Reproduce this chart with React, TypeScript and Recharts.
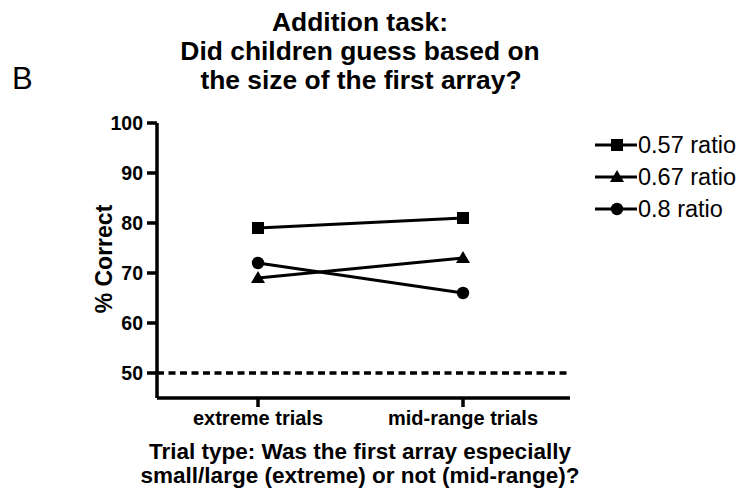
import React from 'react';
import { LineChart, Line, XAxis, YAxis, ReferenceLine, Legend } from 'recharts';

const categories = ['extreme trials', 'mid-range trials'];
const ratio057 = [79, 81];
const ratio067 = [69, 73];
const ratio08 = [72, 66];
const yTicks = [50, 60, 70, 80, 90, 100];
const chanceLevel = 50;

const seriesList = [
  { key: 'r057', name: '0.57 ratio', shape: 'square', values: ratio057 },
  { key: 'r067', name: '0.67 ratio', shape: 'triangle', values: ratio067 },
  { key: 'r08', name: '0.8 ratio', shape: 'circle', values: ratio08 },
];

const data = categories.map((c, i) => {
  const row: any = { category: c };
  seriesList.forEach((s) => (row[s.key] = s.values[i]));
  return row;
});

const FONT = '"Liberation Sans", Arial, Helvetica, sans-serif';

function Marker({ shape, cx, cy }: { shape: string; cx: number; cy: number }) {
  if (shape === 'square') return <rect x={cx - 6} y={cy - 6} width={12} height={12} fill="#000" />;
  if (shape === 'triangle')
    return <polygon points={`${cx},${cy - 7} ${cx - 7},${cy + 5} ${cx + 7},${cy + 5}`} fill="#000" />;
  return <circle cx={cx} cy={cy} r={6.2} fill="#000" />;
}

const makeDot = (shape: string) => (props: any) => {
  const { cx, cy, index } = props;
  if (cx == null || cy == null) return <g key={index} />;
  return <Marker key={index} shape={shape} cx={cx} cy={cy} />;
};

const LegendContent = (props: any) => {
  const payload = props.payload || [];
  return (
    <svg width={150} height={100} style={{ display: 'block' }}>
      {payload.map((p: any, i: number) => {
        const s = seriesList.find((x) => x.key === p.dataKey) || seriesList[i];
        const y = 15 + i * 32;
        return (
          <g key={s.key}>
            <line x1={5} x2={47} y1={y} y2={y} stroke="#000" strokeWidth={3} />
            <Marker shape={s.shape} cx={27} cy={y} />
            <text x={48} y={y + 8} fontFamily={FONT} fontSize={23.5} fill="#000">
              {s.name}
            </text>
          </g>
        );
      })}
    </svg>
  );
};

export default function App() {
  return (
    <div style={{ position: 'absolute', left: 0, top: 0, width: 740, height: 496, background: '#fff' }}>
      <LineChart
        width={740}
        height={496}
        data={data}
        margin={{ top: 123, right: 170, bottom: 68, left: 97 }}
      >
        <XAxis
          dataKey="category"
          height={30}
          padding={{ left: 101, right: 107 }}
          axisLine={{ stroke: '#000', strokeWidth: 3.5 }}
          tickLine={{ stroke: '#000', strokeWidth: 3.5 }}
          tickSize={9}
          tickMargin={4}
          tick={{ fill: '#000', fontSize: 20, fontWeight: 'bold', fontFamily: FONT }}
        />
        <YAxis
          width={60}
          type="number"
          domain={[45, 100]}
          ticks={yTicks}
          allowDataOverflow
          axisLine={{ stroke: '#000', strokeWidth: 3.5 }}
          tickLine={{ stroke: '#000', strokeWidth: 3.5 }}
          tickSize={10}
          tickMargin={4}
          tick={{ fill: '#000', fontSize: 19.5, fontWeight: 'bold', fontFamily: FONT }}
        />
        <ReferenceLine y={chanceLevel} stroke="#000" strokeWidth={3.5} strokeDasharray="7 4.5" />
        {seriesList.map((s) => (
          <Line
            key={s.key}
            type="linear"
            dataKey={s.key}
            name={s.name}
            stroke="#000"
            strokeWidth={3}
            dot={makeDot(s.shape)}
            activeDot={false}
            isAnimationActive={false}
          />
        ))}
        <Legend
          layout="vertical"
          align="center"
          verticalAlign="middle"
          content={LegendContent}
          wrapperStyle={{ position: 'absolute', left: 590, top: 130, width: 150, height: 100 }}
        />
      </LineChart>
      <svg
        width={740}
        height={496}
        style={{ position: 'absolute', left: 0, top: 0, pointerEvents: 'none' }}
      >
        <g fontFamily={FONT} fill="#000">
          <text x={12} y={89} fontSize={31}>B</text>
          <g fontSize={26.4} fontWeight="bold" textAnchor="middle">
            <text x={360} y={30.5}>Addition task:</text>
            <text x={360} y={60}>Did children guess based on</text>
            <text x={361} y={89}>the size of the first array?</text>
          </g>
          <g fontSize={22.5} fontWeight="bold" textAnchor="middle">
            <text x={360} y={459}>Trial type: Was the first array especially</text>
            <text x={360} y={483}>small/large (extreme) or not (mid-range)?</text>
          </g>
          <text
            x={112}
            y={259}
            fontSize={23}
            fontWeight="bold"
            textAnchor="middle"
            transform="rotate(-90 112 259)"
          >
            % Correct
          </text>
        </g>
      </svg>
    </div>
  );
}
